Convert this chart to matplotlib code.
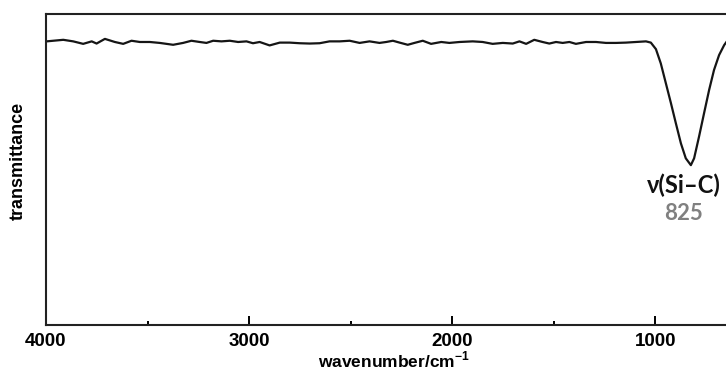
import matplotlib
matplotlib.use("Agg")
import matplotlib.pyplot as plt
from matplotlib.ticker import MultipleLocator

# FTIR spectrum, wavenumber (cm-1) vs transmittance (%)
wavenumber = [3997, 3915, 3866, 3817, 3775, 3751, 3710, 3661, 3620, 3579,
              3538, 3489, 3440, 3407, 3374, 3325, 3284, 3243, 3210, 3177,
              3136, 3095, 3054, 3013, 2981, 2948, 2899, 2849, 2800, 2751,
              2702, 2653, 2604, 2554, 2505, 2456, 2407, 2358, 2325, 2292,
              2259, 2219, 2186, 2145, 2104, 2054, 2014, 1964, 1899, 1850,
              1801, 1751, 1702, 1669, 1636, 1596, 1555, 1522, 1489, 1456,
              1423, 1391, 1341, 1292, 1243, 1194, 1145, 1096, 1046, 1022,
              997, 973, 948, 923, 899, 874, 850, 825, 809, 785,
              760, 735, 711, 686, 661, 650]
transmittance = [91.2, 91.7, 91.2, 90.4, 91.2, 90.5, 92.0, 91.0, 90.4, 91.4,
                 91.0, 91.0, 90.7, 90.4, 90.1, 90.7, 91.4, 91.0, 90.7, 91.4,
                 91.2, 91.4, 91.0, 91.2, 90.6, 91.0, 89.9, 90.8, 90.8, 90.6,
                 90.5, 90.6, 91.2, 91.2, 91.4, 90.7, 91.2, 90.7, 91.0, 91.4,
                 90.8, 90.1, 90.7, 91.4, 90.4, 91.0, 90.7, 91.0, 91.2, 91.0,
                 90.4, 90.7, 90.5, 91.2, 90.4, 91.7, 91.0, 90.5, 91.0, 90.7,
                 91.0, 90.4, 91.0, 91.0, 90.7, 90.7, 90.8, 91.0, 91.2, 90.8,
                 88.7, 84.1, 77.7, 71.3, 64.9, 58.4, 53.6, 51.4, 53.6, 60.5,
                 68.1, 75.6, 82.0, 86.8, 90.0, 91.0]

peak_name = "ν(Si–C)"
peak_pos = 825

plt.rcParams["mathtext.fontset"] = "custom"
plt.rcParams["mathtext.bf"] = "Liberation Sans:bold"
plt.rcParams["mathtext.rm"] = "Liberation Sans:bold"

fig = plt.figure(figsize=(7.26, 3.69), dpi=100)
ax = fig.add_axes([46 / 726, 44 / 369, 680 / 726, 311 / 369])

ax.plot(wavenumber, transmittance, color="#151515", lw=1.6)

ax.set_xlim(4000, 652)
ax.set_ylim(0, 100)

ax.xaxis.set_major_locator(MultipleLocator(1000))
ax.xaxis.set_minor_locator(MultipleLocator(500))
ax.tick_params(axis="x", which="major", direction="in", length=6.5, width=1.4,
               pad=6, labelsize=13.5)
ax.tick_params(axis="x", which="minor", direction="in", length=3.2, width=1.4)
ax.set_yticks([])
for lbl in ax.get_xticklabels():
    lbl.set_fontweight("bold")
    lbl.set_family("Liberation Sans")

for side in ["left", "bottom", "top"]:
    ax.spines[side].set_linewidth(1.5)
    ax.spines[side].set_color("#222222")
ax.spines["right"].set_visible(False)

ax.text(0.511, -0.113, "wavenumber/cm$^{\\mathrm{-1}}$", transform=ax.transAxes,
        ha="center", va="center", fontsize=12.5, fontweight="bold",
        family="Liberation Sans")
ax.text(-0.041, 0.527, "transmittance", transform=ax.transAxes, rotation=90,
        ha="center", va="center", fontsize=13, fontweight="bold",
        family="Liberation Sans")

ax.text(860, 45, peak_name, ha="center", va="center", fontsize=17,
        fontweight="bold", family=["Lato", "DejaVu Sans"], color="#111111")
ax.text(860, 36, str(peak_pos), ha="center", va="center", fontsize=16,
        fontweight="bold", family="Lato", color="#808080")

fig.savefig("out.png", dpi=100)
